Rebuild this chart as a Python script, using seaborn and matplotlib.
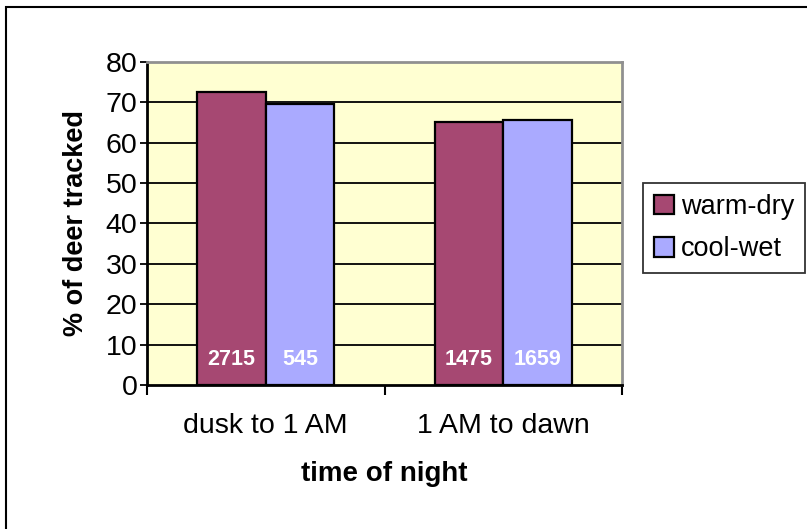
import pandas as pd
import matplotlib.pyplot as plt
import seaborn as sns
from matplotlib.patches import Rectangle

categories = ["dusk to 1 AM", "1 AM to dawn"]
groups = ["warm-dry", "cool-wet"]
warm_dry = [72.5, 65.2]
cool_wet = [69.5, 65.6]
counts_warm = ["2715", "1475"]
counts_cool = ["545", "1659"]
yticks = [0, 10, 20, 30, 40, 50, 60, 70, 80]

df = pd.DataFrame({
    "time": categories * 2,
    "condition": [groups[0]] * 2 + [groups[1]] * 2,
    "pct": warm_dry + cool_wet,
})

sns.set_style("white")
plt.rcParams["font.family"] = ["Liberation Sans", "DejaVu Sans"]
plt.rcParams.update({"text.color": "black", "axes.labelcolor": "black",
                     "xtick.color": "black", "ytick.color": "black"})

fig = plt.figure(figsize=(8.07, 5.29), dpi=100)
ax = fig.add_axes([147 / 807, 1 - 385 / 529, 475 / 807, 323 / 529])
ax.set_facecolor("#FFFFD2")

for v in yticks[1:-1]:
    ax.axhline(v, color="black", lw=1.3, zorder=0)

palette = {"warm-dry": "#A64872", "cool-wet": "#AAAAFF"}
sns.barplot(data=df, x="time", y="pct", hue="condition", palette=palette,
            width=0.575, edgecolor="black", linewidth=1.6, saturation=1,
            ax=ax, zorder=2)

# sample sizes written inside the bars
labels = [counts_warm, counts_cool]
for cont, labs in zip(ax.containers, labels):
    for bar, lab in zip(cont, labs):
        ax.text(bar.get_x() + bar.get_width() / 2, 6.4, lab, color="white",
                fontsize=15.5, fontweight="bold", ha="center", va="center", zorder=3)

ax.set_ylim(0, 80)
ax.set_xlim(-0.5, 1.5)
ax.set_yticks(yticks)
ax.tick_params(axis="y", which="major", direction="out", length=5, width=1.3,
               labelsize=20.5, pad=2, left=True)
ax.set_xticks([0, 1])
ax.set_xticks([-0.5, 0.5, 1.5], minor=True)
ax.tick_params(axis="x", which="major", length=0, labelsize=20.5, pad=20)
ax.tick_params(axis="x", which="minor", direction="out", length=7, width=1.5, bottom=True)

for side in ["left", "bottom"]:
    ax.spines[side].set_color("black")
    ax.spines[side].set_linewidth(2)
for side in ["top", "right"]:
    ax.spines[side].set_color("#909090")
    ax.spines[side].set_linewidth(2)

ax.set_ylabel("% of deer tracked", fontsize=19.5, fontweight="bold", labelpad=12)
ax.set_xlabel("time of night", fontsize=20, fontweight="bold", labelpad=16)

leg = ax.legend(loc="center left", bbox_to_anchor=(643 / 807, 1 - 228 / 529),
                bbox_transform=fig.transFigure, frameon=True, fancybox=False,
                fontsize=19.5, handlelength=0.75, handleheight=0.75, handletextpad=0.25,
                borderpad=0.4, labelspacing=0.6, borderaxespad=0)
leg.get_frame().set_edgecolor("black")
leg.get_frame().set_linewidth(1.3)

fig.patches.append(Rectangle((6 / 807, -0.1), 1.2, 1 - 7 / 529 + 0.1,
                             transform=fig.transFigure, fill=False,
                             edgecolor="black", lw=1.5))

fig.savefig("out.png", dpi=100)
